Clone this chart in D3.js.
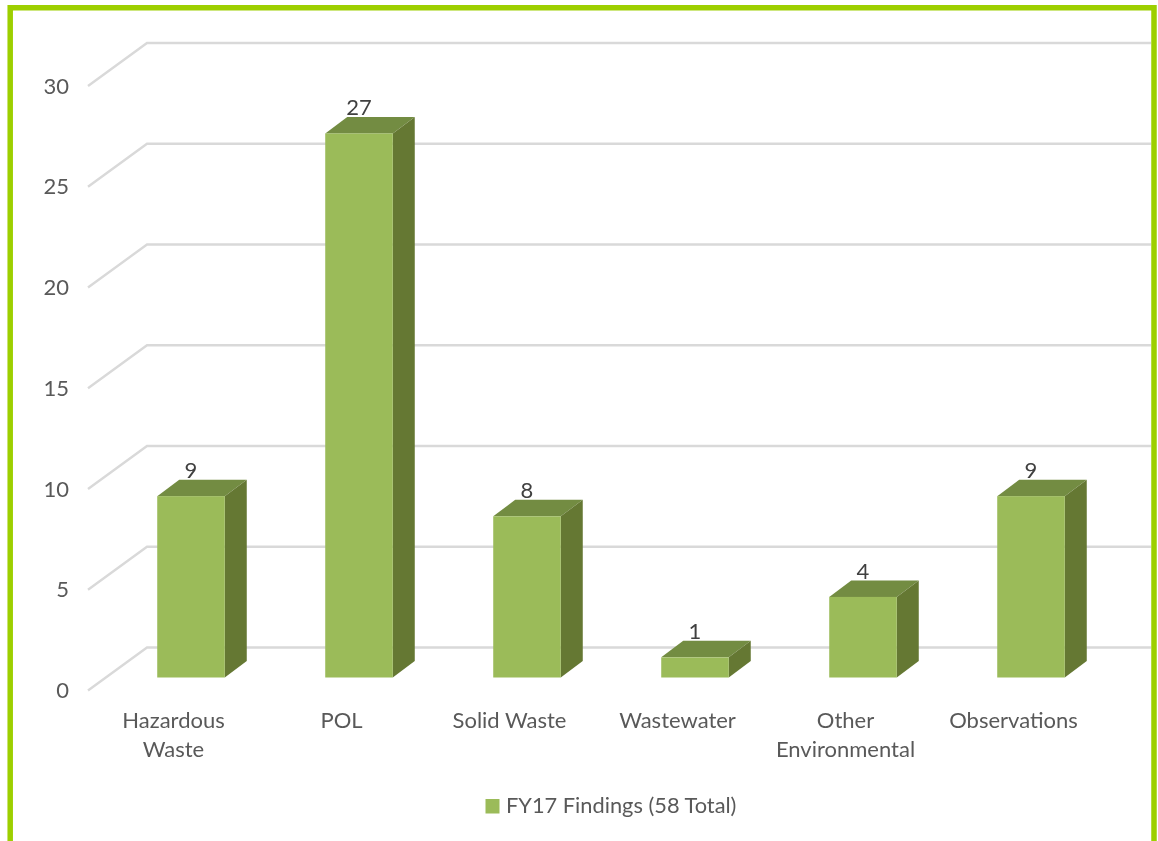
<!DOCTYPE html>
<html>
<head>
<meta charset="utf-8">
<script src="https://d3js.org/d3.v7.min.js"></script>
<style>
  body { margin: 0; background: #fff; }
  text { font-family: Lato, "Open Sans", sans-serif; fill: #595959; }
</style>
</head>
<body>
<div id="chart"></div>
<script>
const categories = ["Hazardous Waste", "POL", "Solid Waste", "Wastewater", "Other Environmental", "Observations"];
const findings = [9, 27, 8, 1, 4, 9];
const yTicks = [0, 5, 10, 15, 20, 25, 30];
const seriesName = "FY17 Findings (58 Total)";

const width = 1158, height = 841;

// depth of the fake 3d box
const floorDx = 59, floorDy = 43;
const frontDy = 30;
const sideDx = 22, sideDy = 16.5;

const svg = d3.select("#chart")
    .append("svg")
    .attr("width", width)
    .attr("height", height)
    .style("display", "block")
    .style("filter", "blur(0.4px)");

const x = d3.scaleBand()
    .domain(categories)
    .range([107, 1115])
    .paddingInner(0.598)
    .paddingOuter(0.299);

const y = d3.scaleLinear()
    .domain([0, 30])
    .range([647.5, 43]);

// back wall gridlines + the diagonal on the side wall
svg.append("g")
    .selectAll("path")
    .data(yTicks)
    .join("path")
    .attr("d", d => `M${147 - floorDx},${y(d) + floorDy} L147,${y(d)} L1151,${y(d)}`)
    .attr("fill", "none")
    .attr("stroke", "#d9d9d9")
    .attr("stroke-width", 2.4);

// y axis labels
const yAxis = svg.append("g")
    .attr("transform", `translate(69,${floorDy})`)
    .call(d3.axisLeft(y).tickValues(yTicks).tickSize(0).tickPadding(0));
yAxis.select(".domain").remove();
yAxis.selectAll("text")
    .style("font-family", "Lato, 'Open Sans', sans-serif")
    .style("font-size", "22px");

// bars
const bars = svg.append("g")
    .selectAll("g")
    .data(categories.map((c, i) => ({ category: c, value: findings[i] })))
    .join("g");

bars.append("polygon")
    .attr("fill", "#738c42")
    .attr("points", d => {
        const x0 = x(d.category), x1 = x0 + x.bandwidth(), t = y(d.value) + frontDy;
        return [[x0, t], [x0 + sideDx, t - sideDy], [x1 + sideDx, t - sideDy], [x1, t]].join(" ");
    });

bars.append("polygon")
    .attr("fill", "#657833")
    .attr("points", d => {
        const x1 = x(d.category) + x.bandwidth(), t = y(d.value) + frontDy, b = y(0) + frontDy;
        return [[x1, t], [x1 + sideDx, t - sideDy], [x1 + sideDx, b - sideDy], [x1, b]].join(" ");
    });

bars.append("rect")
    .attr("x", d => x(d.category))
    .attr("y", d => y(d.value) + frontDy)
    .attr("width", x.bandwidth())
    .attr("height", d => y(0) - y(d.value))
    .attr("fill", "#9bbb59");

bars.append("text")
    .attr("x", d => x(d.category) + x.bandwidth() / 2)
    .attr("y", d => y(d.value) + frontDy - sideDy - 1.5)
    .attr("text-anchor", "middle")
    .style("font-size", "22px")
    .style("fill", "#404040")
    .text(d => d.value);

// category labels sit a bit left of the bars
const xAxis = svg.append("g")
    .attr("transform", "translate(-17.5,706)")
    .call(d3.axisBottom(x).tickSize(0).tickPadding(0));
xAxis.select(".domain").remove();
xAxis.selectAll("text")
    .style("font-family", "Lato, 'Open Sans', sans-serif")
    .style("font-size", "22px")
    .call(wrap, 140);

// legend
const legend = svg.append("g");
legend.append("rect")
    .attr("x", 485.5)
    .attr("y", 799)
    .attr("width", 14)
    .attr("height", 14.5)
    .attr("fill", "#9bbb59");
legend.append("text")
    .attr("x", 506)
    .attr("y", 813)
    .style("font-size", "21.8px")
    .text(seriesName);

// border is open at the bottom
svg.append("path")
    .attr("d", `M10.2,${height + 5} L10.2,7.8 L1154,7.8 L1154,${height + 5}`)
    .attr("fill", "none")
    .attr("stroke", "#9dcf00")
    .attr("stroke-width", 5.5);

function wrap(selection, maxWidth) {
    selection.each(function() {
        const label = d3.select(this);
        const words = label.text().split(" ");
        label.text(null).attr("y", null).attr("dy", null);
        let line = [];
        let tspan = label.append("tspan").attr("x", 0).attr("y", 21.5);
        let lineNo = 0;
        words.forEach(word => {
            line.push(word);
            tspan.text(line.join(" "));
            if (tspan.node().getComputedTextLength() > maxWidth && line.length > 1) {
                line.pop();
                tspan.text(line.join(" "));
                line = [word];
                lineNo++;
                tspan = label.append("tspan").attr("x", 0).attr("y", 21.5 + lineNo * 29).text(word);
            }
        });
    });
}
</script>
</body>
</html>
